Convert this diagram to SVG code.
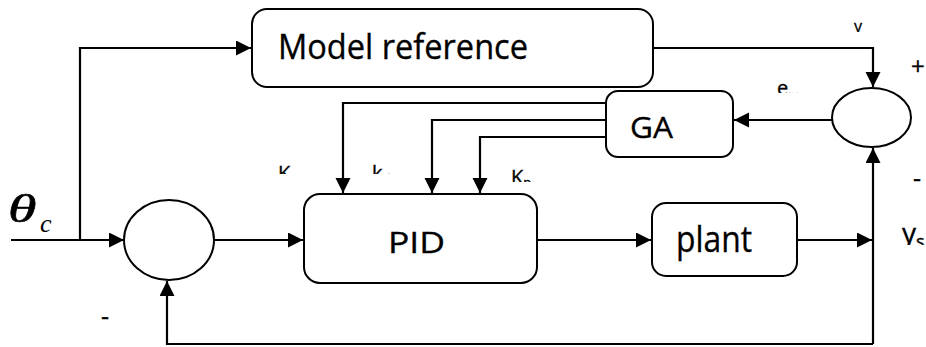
<svg xmlns="http://www.w3.org/2000/svg" width="926" height="347" viewBox="0 0 926 347">
<style>
.box{fill:#fff;stroke:#000;stroke-width:2}
.ell{fill:#fff;stroke:#000;stroke-width:2}
.ln{fill:none;stroke:#000;stroke-width:2.2}
.t{font-family:"Open Sans","Noto Sans",sans-serif;fill:#000;stroke:#000;stroke-width:0.35}
.th{font-family:"Liberation Serif",serif;font-style:italic;fill:#000}
</style>
<defs>
<marker id="ah" markerUnits="userSpaceOnUse" markerWidth="16" markerHeight="16" refX="15" refY="7.5" orient="auto">
<path d="M0,0 L15,7.5 L0,15 z" fill="#000"/>
</marker>
<clipPath id="cKi"><rect x="270" y="150" width="40" height="24"/></clipPath>
<clipPath id="cKd"><rect x="360" y="150" width="40" height="24"/></clipPath>
<clipPath id="cKp"><rect x="500" y="150" width="50" height="32"/></clipPath>
<clipPath id="cEm"><rect x="765" y="70" width="50" height="23"/></clipPath>
<clipPath id="cYm"><rect x="845" y="10" width="40" height="22"/></clipPath>
<clipPath id="cYs"><rect x="895" y="210" width="31" height="35"/></clipPath>
</defs>
<g id="connectors">
<polyline class="ln" points="80,240 80,48 251,48" marker-end="url(#ah)"/>
<polyline class="ln" points="11,240 124,240" marker-end="url(#ah)"/>
<polyline class="ln" points="214,240 303,240" marker-end="url(#ah)"/>
<polyline class="ln" points="537,240 651,240" marker-end="url(#ah)"/>
<polyline class="ln" points="797,240 872,240" marker-end="url(#ah)"/>
<polyline class="ln" points="653,48 873,48 873,87" marker-end="url(#ah)"/>
<polyline class="ln" points="873,344 873,148" marker-end="url(#ah)"/>
<polyline class="ln" points="873,344 167,344 167,281" marker-end="url(#ah)"/>
<polyline class="ln" points="832,120 734,120" marker-end="url(#ah)"/>
<polyline class="ln" points="606,103 343,103 343,193" marker-end="url(#ah)"/>
<polyline class="ln" points="606,120 432,120 432,193" marker-end="url(#ah)"/>
<polyline class="ln" points="606,137 480,137 480,193" marker-end="url(#ah)"/>
</g>
<g id="model-reference">
<rect class="box" x="252" y="9" width="401" height="78" rx="15"/>
<text class="t" x="278" y="59" font-size="35" textLength="250" lengthAdjust="spacingAndGlyphs">Model reference</text>
</g>
<g id="sum1">
<ellipse class="ell" cx="169" cy="240" rx="45" ry="40"/>
</g>
<g id="sum2">
<ellipse class="ell" cx="871.5" cy="117.5" rx="39.5" ry="29.5"/>
</g>
<g id="pid">
<rect class="box" x="304" y="194" width="233" height="89" rx="16"/>
<text class="t" x="388" y="253" font-size="30" textLength="57" lengthAdjust="spacingAndGlyphs">PID</text>
</g>
<g id="plant">
<rect class="box" x="652" y="203" width="145" height="73" rx="14"/>
<text class="t" x="676" y="252" font-size="36" textLength="76" lengthAdjust="spacingAndGlyphs">plant</text>
</g>
<g id="ga">
<rect class="box" x="606" y="91" width="127" height="66" rx="12"/>
<text class="t" x="630" y="138" font-size="30" textLength="43" lengthAdjust="spacingAndGlyphs">GA</text>
</g>
<g id="labels">
<text class="th" font-size="40" stroke="#000" stroke-width="0.6" transform="translate(8,222) scale(1.45,1)">θ</text>
<text class="th" x="40" y="232" font-size="26">c</text>
<text class="t" x="101" y="325" font-size="25">-</text>
<text class="t" x="911" y="75" font-size="24">+</text>
<text class="t" x="913" y="187" font-size="25">-</text>
<g clip-path="url(#cKi)"><text class="t" x="278" y="180" font-size="20">K<tspan font-size="13" dy="4">i</tspan></text></g>
<g clip-path="url(#cKd)"><text class="t" x="372" y="180" font-size="20">k<tspan font-size="13" dy="4">d</tspan></text></g>
<g clip-path="url(#cKp)"><text class="t" x="511" y="184" font-size="20">K<tspan font-size="13" dy="3">p</tspan></text></g>
<g clip-path="url(#cEm)"><text class="t" x="777" y="95" font-size="20">e<tspan font-size="13" dy="5">m</tspan></text></g>
<g clip-path="url(#cYm)"><text class="t" x="854" y="32" font-size="16">y<tspan font-size="11" dy="7">m</tspan></text></g>
<g clip-path="url(#cYs)"><text class="t" x="902" y="243" font-size="28">y<tspan font-size="18" dy="5">s</tspan></text></g>
</g>
</svg>
